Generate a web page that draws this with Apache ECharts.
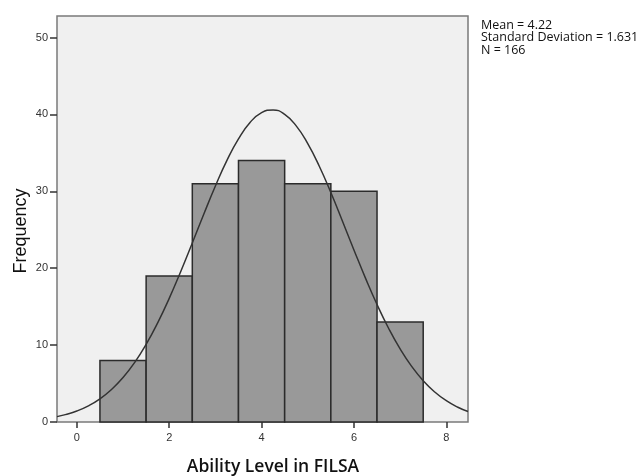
<!DOCTYPE html>
<html>
<head>
<meta charset="utf-8">
<script src="https://cdn.jsdelivr.net/npm/echarts@6/dist/echarts.min.js"></script>
<style>html,body{margin:0;padding:0;background:#fff}#c{width:643px;height:476px}</style>
</head>
<body>
<div id="c"></div>
<script>
// Histogram bins (bin centers) and frequencies
const binCenters = [1, 2, 3, 4, 5, 6, 7];
const frequencies = [8, 19, 31, 34, 31, 30, 13];
// Normal curve points
const curveX = [-0.43, -0.25, 0, 0.25, 0.5, 0.75, 1, 1.25, 1.5, 1.75, 2, 2.25, 2.5, 2.75, 3, 3.25, 3.5, 3.75, 4, 4.25, 4.5, 4.75, 5, 5.25, 5.5, 5.75, 6, 6.25, 6.5, 6.75, 7, 7.25, 7.5, 7.75, 8, 8.25, 8.47];
const curveY = [0.70, 0.96, 1.43, 2.10, 3.01, 4.23, 5.78, 7.73, 10.1, 12.9, 16.08, 19.58, 23.28, 27.05, 30.69, 34.02, 36.82, 38.95, 40.23, 40.59, 40.0, 38.51, 36.2, 33.26, 29.84, 26.15, 22.38, 18.71, 15.28, 12.19, 9.50, 7.23, 5.37, 3.90, 2.77, 1.92, 1.36];
const xTicks = [0, 2, 4, 6, 8];
const yTicks = [0, 10, 20, 30, 40, 50];
const statsLines = ['Mean = 4.22', 'Standard Deviation = 1.631', 'N = 166'];
const xTitle = 'Ability Level in FILSA';
const yTitle = 'Frequency';

const chart = echarts.init(document.getElementById('c'), null, {renderer: 'canvas'});
const barData = binCenters.map((c, i) => [c, frequencies[i]]);
const curveData = curveX.map((x, i) => [x, curveY[i]]);

chart.setOption({
  animation: false,
  backgroundColor: '#ffffff',
  grid: {
    left: 57, right: 175, top: 16, bottom: 54,
    show: true, backgroundColor: '#f0f0f0', borderColor: '#7a7a7a', borderWidth: 1.5
  },
  xAxis: {
    type: 'value', min: -0.43, max: 8.47,
    axisLine: {show: false, onZero: false},
    splitLine: {show: false},
    axisTick: {show: true, length: 6, lineStyle: {color: '#333', width: 1.5}, customValues: xTicks},
    axisLabel: {customValues: xTicks, fontFamily: 'Liberation Sans', fontSize: 11, color: '#333', margin: 10}
  },
  yAxis: {
    type: 'value', min: 0, max: 52.8,
    axisLine: {show: false, onZero: false},
    splitLine: {show: false},
    axisTick: {show: true, length: 7, lineStyle: {color: '#333', width: 1.5}, customValues: yTicks},
    axisLabel: {customValues: yTicks, fontFamily: 'Liberation Sans', fontSize: 11, color: '#333', margin: 9}
  },
  graphic: [
    {
      type: 'text', x: 481, y: 37.5,
      style: {text: statsLines.join('\n'), fontFamily: 'Open Sans', fontSize: 12.5, lineHeight: 12.5,
              fill: '#111', verticalAlign: 'middle', align: 'left'}
    },
    {
      type: 'text', x: 273, y: 467,
      style: {text: xTitle, fontFamily: 'Open Sans', fontWeight: 600, fontSize: 17.5, fill: '#111',
              align: 'center', verticalAlign: 'middle'}
    },
    {
      type: 'text', x: 21, y: 231, rotation: Math.PI / 2,
      style: {text: yTitle, fontFamily: 'Liberation Sans', fontSize: 18, fill: '#111',
              align: 'center', verticalAlign: 'middle'}
    }
  ],
  series: [
    {
      type: 'custom',
      data: barData,
      encode: {x: 0, y: 1},
      renderItem: function (params, api) {
        const c = api.value(0), v = api.value(1);
        const p0 = api.coord([c - 0.5, 0]);
        const p1 = api.coord([c + 0.5, v]);
        return {
          type: 'rect',
          shape: {x: p0[0], y: p1[1], width: p1[0] - p0[0], height: p0[1] - p1[1]},
          style: {fill: '#999999', stroke: '#2b2b2b', lineWidth: 1.5}
        };
      },
      z: 2
    },
    {
      type: 'line', data: curveData, smooth: true, showSymbol: false, symbol: 'none',
      lineStyle: {color: '#333', width: 1.5}, z: 3
    }
  ]
});
</script>
</body>
</html>
